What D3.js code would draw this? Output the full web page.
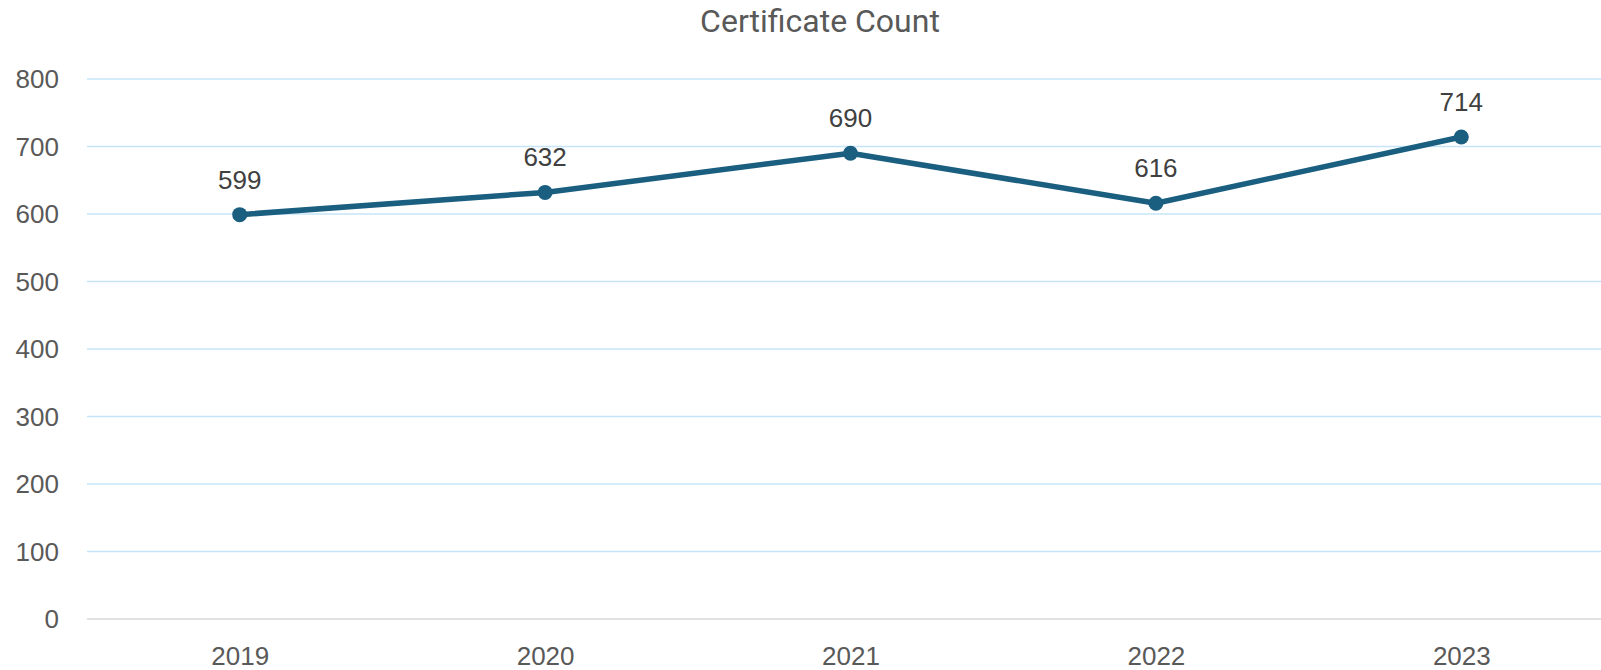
<!DOCTYPE html>
<html>
<head>
<meta charset="utf-8">
<script src="https://cdn.jsdelivr.net/npm/d3@7"></script>
<style>
  body { margin: 0; background: #fff; }
  svg { display: block; }
</style>
</head>
<body>
<div id="chart-container"></div>
<script>
"use strict"

const years = ["2019", "2020", "2021", "2022", "2023"];
const counts = [599, 632, 690, 616, 714];
const yTicks = [0, 100, 200, 300, 400, 500, 600, 700, 800];
const chartTitle = "Certificate Count";

function drawChart(){
  let svgWidth = 1601;
  let svgHeight = 670;

  const svg = d3.select('#chart-container')
    .append('svg')
    .attr('width', svgWidth)
    .attr('height', svgHeight);

  // scales
  let xScale = d3.scalePoint()
    .domain(years)
    .range([87, 1614])
    .padding(0.5);

  let yScale = d3.scaleLinear()
    .domain([0, 800])
    .range([619, 79]);

  // gridlines
  svg.append('g')
    .selectAll('line')
    .data(yTicks.filter(d => d > 0))
    .enter()
    .append('line')
    .attr('x1', 87)
    .attr('x2', svgWidth)
    .attr('y1', d => yScale(d))
    .attr('y2', d => yScale(d))
    .attr('stroke', '#c6e4f9')
    .attr('stroke-width', 1.6);

  // bottom axis line
  svg.append('line')
    .attr('x1', 87)
    .attr('x2', svgWidth)
    .attr('y1', yScale(0))
    .attr('y2', yScale(0))
    .attr('stroke', '#d9d9d9')
    .attr('stroke-width', 1.6);

  // y axis labels
  const yAxis = d3.axisLeft(yScale).tickValues(yTicks).tickSize(0).tickPadding(0);
  const gy = svg.append('g')
    .attr('transform', 'translate(59,0)')
    .call(yAxis);
  gy.select('.domain').remove();
  gy.selectAll('text')
    .attr('fill', '#595959')
    .style('font-family', '"Liberation Sans", Arial, sans-serif')
    .style('font-size', '26px')
    .attr('dy', '0.34em');

  // x axis labels
  const xAxis = d3.axisBottom(xScale).tickSize(0).tickPadding(0);
  const gx = svg.append('g')
    .attr('transform', 'translate(0,' + yScale(0) + ')')
    .call(xAxis);
  gx.select('.domain').remove();
  gx.selectAll('text')
    .attr('fill', '#595959')
    .attr('dy', null)
    .attr('y', 46)
    .style('font-family', '"Liberation Sans", Arial, sans-serif')
    .style('font-size', '26px');

  // title
  svg.append('text')
    .attr('x', 820)
    .attr('y', 32)
    .attr('text-anchor', 'middle')
    .attr('fill', '#595959')
    .style('font-family', 'Roboto, sans-serif')
    .style('font-size', '32px')
    .text(chartTitle);

  // line
  let line = d3.line()
    .x((d, i) => xScale(years[i]))
    .y(d => yScale(d));

  svg.append('path')
    .datum(counts)
    .attr('d', line)
    .attr('fill', 'none')
    .attr('stroke', '#1a5e80')
    .attr('stroke-width', 5.5)
    .attr('stroke-linejoin', 'round');

  svg.selectAll('circle.pt')
    .data(counts)
    .enter()
    .append('circle')
    .attr('class', 'pt')
    .attr('cx', (d, i) => xScale(years[i]))
    .attr('cy', d => yScale(d))
    .attr('r', 7.5)
    .attr('fill', '#1a5e80');

  // data labels
  svg.selectAll('text.lbl')
    .data(counts)
    .enter()
    .append('text')
    .attr('class', 'lbl')
    .attr('x', (d, i) => xScale(years[i]))
    .attr('y', d => yScale(d) - 26)
    .attr('text-anchor', 'middle')
    .attr('fill', '#404040')
    .style('font-family', '"Liberation Sans", Arial, sans-serif')
    .style('font-size', '26px')
    .text(d => d);
}

document.addEventListener('DOMContentLoaded', function(){
  drawChart();
});
</script>
</body>
</html>
